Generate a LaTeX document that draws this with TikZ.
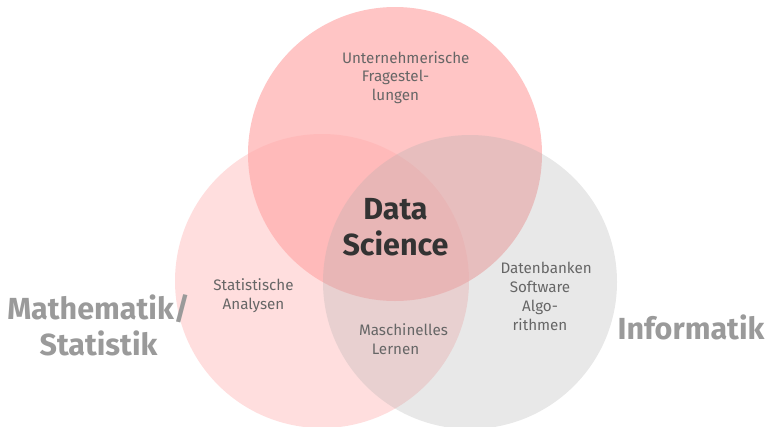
\documentclass[tikz,border=0pt]{standalone}
\usepackage{fontspec}
\setmainfont{Fira Sans}
\definecolor{topc}{RGB}{255,172,172}
\definecolor{leftc}{RGB}{255,222,222}
\definecolor{rightc}{RGB}{173,173,173}
\definecolor{smalltxt}{RGB}{102,102,102}
\definecolor{bigtxt}{RGB}{154,154,154}
\definecolor{dstxt}{RGB}{51,51,51}
\tikzset{
  circ/.style={circle, draw=none, minimum size=294pt, inner sep=0pt},
  smalltext/.style={inner sep=0pt, text=smalltxt, align=center, font=\fontsize{15.2}{18.8}\selectfont},
  bigtext/.style={inner sep=0pt, text=bigtxt, align=center, font=\bfseries\fontsize{30.5}{36}\selectfont},
}
\begin{document}
\begin{tikzpicture}[x=1pt,y=-1pt]
\useasboundingbox (0,0) rectangle (766,426);
\node[circ, fill=leftc] (L) at (322,281) {};
\node[circ, fill=topc, fill opacity=0.7] (T) at (395,154) {};
\node[circ, fill=rightc, fill opacity=0.28] (R) at (470,282) {};
\node[smalltext, text width=107pt] (tq) at (395.5,77.5) {\mbox{Unternehmerische}\\Fragestel-\\lungen};
\node[smalltext] (sa) at (253.5,296) {Statistische\\Analysen};
\node[smalltext, text width=73pt] (ml) at (395.5,339.5) {\mbox{Maschinelles}\\Lernen};
\node[smalltext, text width=79pt] (db) at (540,296.5) {\mbox{Datenbanken}\\Software\\Algo-\\rithmen};
\node[bigtext, text=dstxt] (ds) at (395.5,227) {Data\\Science};
\node[bigtext] (ms) at (98.5,325) {Mathematik/\\Statistik};
\node[bigtext] (inf) at (691,327) {Informatik};
\end{tikzpicture}
\end{document}
